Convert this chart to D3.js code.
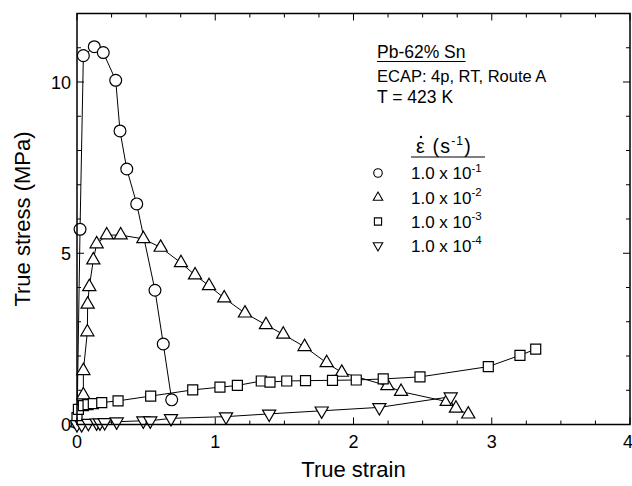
<!DOCTYPE html>
<html>
<head>
<meta charset="utf-8">
<script src="https://cdn.jsdelivr.net/npm/d3@7/dist/d3.min.js"></script>
<style>
  html, body { margin: 0; padding: 0; background: #fff; }
  svg { display: block; font-family: "Liberation Sans", Arial, sans-serif; }
</style>
</head>
<body>
<svg id="chart" width="632" height="486"></svg>
<script>
// ---- data (true strain, true stress MPa) ----
const seriesNames = ["1.0 x 10", "1.0 x 10", "1.0 x 10", "1.0 x 10"];
const seriesExp = ["-1", "-2", "-3", "-4"];

const rate1Strain = [0.0, 0.022, 0.046, 0.125, 0.19, 0.28, 0.311, 0.36, 0.432, 0.564, 0.624, 0.685];
const rate1Stress = [0.05, 5.70, 10.77, 11.03, 10.86, 10.05, 8.57, 7.46, 6.44, 3.92, 2.35, 0.72];

const rate2Strain = [0.0, 0.046, 0.046, 0.075, 0.077, 0.089, 0.118, 0.142, 0.215, 0.316, 0.48, 0.605, 0.752, 0.854, 0.955, 1.065, 1.215, 1.367, 1.492, 1.646, 1.806, 1.915, 2.245, 2.344, 2.674, 2.741, 2.83];
const rate2Stress = [0.04, 0.86, 1.57, 2.70, 3.51, 4.02, 4.80, 5.27, 5.53, 5.53, 5.42, 5.17, 4.72, 4.36, 4.05, 3.69, 3.25, 2.91, 2.63, 2.27, 1.80, 1.52, 1.13, 0.96, 0.67, 0.47, 0.30];

const rate3Strain = [0.0, 0.01, 0.046, 0.08, 0.118, 0.179, 0.297, 0.533, 0.837, 1.034, 1.16, 1.333, 1.396, 1.517, 1.653, 1.848, 2.02, 2.215, 2.481, 2.975, 3.204, 3.318];
const rate3Stress = [0.2, 0.44, 0.55, 0.58, 0.61, 0.64, 0.69, 0.83, 1.01, 1.09, 1.14, 1.27, 1.24, 1.27, 1.28, 1.29, 1.30, 1.33, 1.39, 1.69, 2.02, 2.20];

const rate4Strain = [0.0, 0.034, 0.082, 0.142, 0.166, 0.2, 0.287, 0.48, 0.53, 0.68, 1.078, 1.39, 1.77, 2.187, 2.703];
const rate4Stress = [0.0, 0.0, 0.04, 0.05, 0.05, 0.06, 0.08, 0.11, 0.11, 0.18, 0.23, 0.31, 0.40, 0.50, 0.81];

const xMajorTicks = [0, 1, 2, 3, 4];
const yMajorTicks = [0, 5, 10];

// ---- layout ----
const svg = d3.select("#chart");
const L = 77, R = 630, T = 13.5, B = 424.5;
const x = d3.scaleLinear().domain([0, 4]).range([L, R]);
const y = d3.scaleLinear().domain([0, 12]).range([B, T]);

svg.append("rect").attr("width", 632).attr("height", 486).attr("fill", "#fff");

const series = [
  { sx: rate1Strain, sy: rate1Stress, sym: "circle" },
  { sx: rate2Strain, sy: rate2Stress, sym: "up" },
  { sx: rate3Strain, sy: rate3Stress, sym: "square" },
  { sx: rate4Strain, sy: rate4Stress, sym: "down" }
];

function symPath(kind, scale) {
  const s = scale || 1;
  if (kind === "circle") return d3.symbol(d3.symbolCircle, 110 * s * s)();
  if (kind === "square") return d3.symbol(d3.symbolSquare, 100 * s * s)();
  return d3.symbol(d3.symbolTriangle, 75 * s * s)();
}
function symTransform(kind, px, py) {
  return `translate(${px},${py})` + (kind === "down" ? " rotate(180)" : "");
}

const line = d3.line().x(d => x(d[0])).y(d => y(d[1]));

const plot = svg.append("g");
series.forEach(s => {
  const pts = s.sx.map((v, i) => [v, s.sy[i]]);
  plot.append("path").attr("d", line(pts)).attr("fill", "none")
    .attr("stroke", "#000").attr("stroke-width", 1);
});
series.forEach(s => {
  const pts = s.sx.map((v, i) => [v, s.sy[i]]);
  plot.selectAll(null).data(pts).enter().append("path")
    .attr("d", symPath(s.sym))
    .attr("transform", d => symTransform(s.sym, x(d[0]), y(d[1])))
    .attr("fill", "#fff").attr("stroke", "#000").attr("stroke-width", 1.2);
});

// ---- axes ----
const ax = svg.append("g").attr("stroke", "#000");
const xMinor = d3.range(0, 4.0001, 0.25);
const yMinor = d3.range(0, 12.0001, 1);
xMinor.forEach(v => {
  const major = Math.abs(v - Math.round(v)) < 1e-6;
  const len = major ? 7 : 4;
  ax.append("line").attr("x1", x(v)).attr("x2", x(v)).attr("y1", B).attr("y2", B - len).attr("stroke-width", 1);
  ax.append("line").attr("x1", x(v)).attr("x2", x(v)).attr("y1", T).attr("y2", T + len).attr("stroke-width", 1);
});
yMinor.forEach(v => {
  const major = v % 5 === 0;
  const len = major ? 7 : 4;
  ax.append("line").attr("y1", y(v)).attr("y2", y(v)).attr("x1", L).attr("x2", L + len).attr("stroke-width", 1);
  ax.append("line").attr("y1", y(v)).attr("y2", y(v)).attr("x1", R).attr("x2", R - len).attr("stroke-width", 1);
});
svg.append("rect").attr("x", L).attr("y", T).attr("width", R - L).attr("height", B - T)
  .attr("fill", "none").attr("stroke", "#000").attr("stroke-width", 1.5);

svg.append("g").selectAll("text").data(xMajorTicks).enter().append("text")
  .attr("x", d => x(d) - (d === 4 ? 2 : 0)).attr("y", B + 23).attr("text-anchor", "middle")
  .attr("font-size", 18).text(d => d);
svg.append("g").selectAll("text").data(yMajorTicks).enter().append("text")
  .attr("x", L - 6).attr("y", d => y(d) + 6.5).attr("text-anchor", "end")
  .attr("font-size", 18).text(d => d);

svg.append("text").attr("x", (L + R) / 2).attr("y", 477).attr("text-anchor", "middle")
  .attr("font-size", 22).text("True strain");
svg.append("text").attr("transform", `translate(30,${(T + B) / 2}) rotate(-90)`)
  .attr("text-anchor", "middle").attr("font-size", 22).text("True stress (MPa)");

// ---- annotation ----
const ann = svg.append("g").attr("font-size", 17.5);
const t1 = ann.append("text").attr("x", 377).attr("y", 58).text("Pb-62% Sn");
const w1 = t1.node().getComputedTextLength();
ann.append("line").attr("x1", 377).attr("x2", 377 + w1).attr("y1", 61.5).attr("y2", 61.5)
  .attr("stroke", "#000").attr("stroke-width", 1);
ann.append("text").attr("x", 377).attr("y", 82).attr("font-size", 16.5).text("ECAP: 4p, RT, Route A");
ann.append("text").attr("x", 377).attr("y", 103).text("T = 423 K");

// legend header
const hdr = svg.append("text").attr("x", 416).attr("y", 153).attr("font-size", 19.5)
  .attr("letter-spacing", 1.2);
const eps = hdr.append("tspan").text("\u03B5");
hdr.append("tspan").text(" (s");
hdr.append("tspan").attr("font-size", 12).attr("dy", -8).text("-1");
hdr.append("tspan").attr("dy", 8).text(")");
const epsW = eps.node().getComputedTextLength();
svg.append("circle").attr("cx", 416 + epsW / 2).attr("cy", 137).attr("r", 1.2).attr("fill", "#000");
svg.append("line").attr("x1", 411).attr("x2", 485).attr("y1", 157).attr("y2", 157)
  .attr("stroke", "#000").attr("stroke-width", 1.2);

const rowY = [179, 203.5, 227.5, 251.5];
series.forEach((s, i) => {
  svg.append("path").attr("d", symPath(s.sym, 0.72))
    .attr("transform", symTransform(s.sym, 378, rowY[i] - 6))
    .attr("fill", "#fff").attr("stroke", "#000").attr("stroke-width", 1.1);
  const t = svg.append("text").attr("x", 411).attr("y", rowY[i]).attr("font-size", 17);
  t.append("tspan").text(seriesNames[i]);
  t.append("tspan").attr("font-size", 11.5).attr("dy", -7.5).text(seriesExp[i]);
});
</script>
</body>
</html>
